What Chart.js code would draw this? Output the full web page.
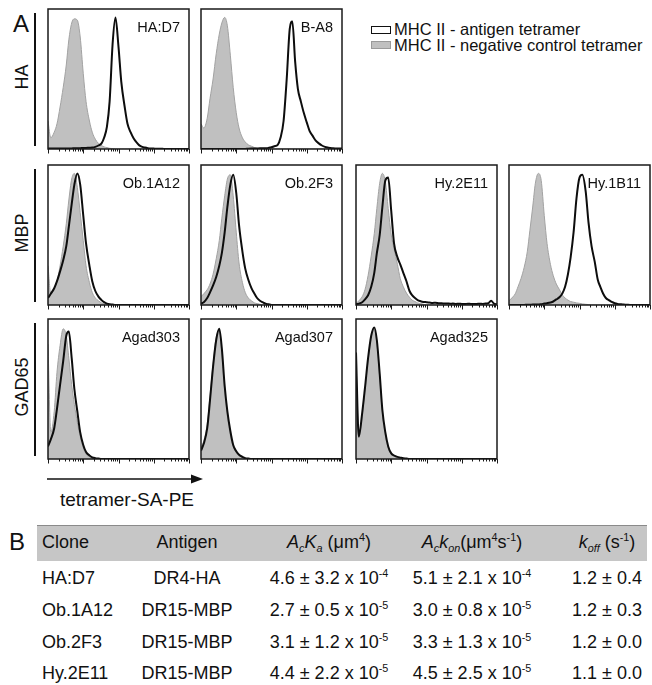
<!DOCTYPE html>
<html>
<head>
<meta charset="utf-8">
<script src="https://cdn.jsdelivr.net/npm/chart.js@4.4.1/dist/chart.umd.min.js"></script>
<style>
  body { margin: 0; background: #fff; }
  #fig { position: relative; width: 652px; height: 685px; overflow: hidden;
         font-family: "Liberation Sans", Arial, sans-serif; color: #111; }
  .abs { position: absolute; white-space: nowrap; line-height: 1; }
  .big { font-size: 24px; transform: translate(-50%, -50%); }
  .rowlab { font-size: 18px; transform: translate(-50%, -50%) rotate(-90deg); }
  .rowline { position: absolute; width: 1.5px; background: #111; }
  .panel { position: absolute; }
  .panel canvas { position: absolute; left: 0; top: 0; }
  .plabel { font-size: 14.5px; transform: translateY(-50%); }
  .leg { font-size: 16.5px; transform: translateY(-50%); }
  .legbox { position: absolute; width: 20px; height: 8px; box-sizing: border-box; }
  .cell { font-size: 18px; }
  .cell sup, .cell sub { font-size: 0.6em; position: relative; vertical-align: baseline; }
  .cell sup { top: -0.65em; }
  .cell sub { top: 0.35em; }
</style>
</head>
<body>
<div id="fig">
  <div class="abs big" style="left:21px; top:24px;">A</div>
  <div class="legbox" style="left:371px; top:26px; border:1.5px solid #111; background:#fff;"></div>
  <div class="abs leg" style="left:394px; top:29px;">MHC II - antigen tetramer</div>
  <div class="legbox" style="left:371px; top:41px; border:1px solid #9a9a9a; background:#c0c0c0;"></div>
  <div class="abs leg" style="left:394px; top:45px;">MHC II - negative control tetramer</div>
  <svg style="position:absolute; left:0; top:470px;" width="220" height="20">
    <line x1="47" y1="9" x2="193" y2="9" stroke="#111" stroke-width="1.5"/>
    <polygon points="191,4.5 203,9 191,13.5" fill="#111"/>
  </svg>
  <div class="abs" style="left:127px; top:499px; font-size:19px; transform:translate(-50%,-50%);">tetramer-SA-PE</div>
  <div class="abs big" style="left:17px; top:542px;">B</div>
  <div style="position:absolute; left:37px; top:525px; width:610px; height:35px; background:#c6c6c6; border-top:1px solid #8a8a8a;"></div>
</div>
<script>
// log-spaced fluorescence bins (E12 series), 1 to 10^4
const bins = [
  1, 1.2, 1.5, 1.8, 2.2, 2.7, 3.3, 3.9, 4.7, 5.6, 6.8, 8.2,
  10, 12, 15, 18, 22, 27, 33, 39, 47, 56, 68, 82,
  100, 120, 150, 180, 220, 270, 330, 390, 470, 560, 680, 820,
  1000, 1200, 1500, 1800, 2200, 2700, 3300, 3900, 4700, 5600, 6800, 8200,
  10000
];
const decades = [1, 10, 100, 1000, 10000];
const minorSteps = [2, 3, 4, 5, 6, 7, 8, 9];

const groups = ['HA', 'MBP', 'GAD65'];
const clones = ['HA:D7', 'B-A8', 'Ob.1A12', 'Ob.2F3', 'Hy.2E11', 'Hy.1B11', 'Agad303', 'Agad307', 'Agad325'];

// % of modal count per bin; grey = negative control tetramer, black = antigen tetramer
const controlHAD7 = [
  20, 8, 12, 18, 30, 44, 60, 78, 90, 93, 92, 80,
  54, 34, 20, 12, 7, 4, 2.5, 1.5, 1, 0.5, 0.3, 0,
  0, 0, 0, 0, 0, 0, 0, 0, 0, 0, 0, 0,
  0, 0, 0, 0, 0, 0, 0, 0, 0, 0, 0, 0,
  0];
const antigenHAD7 = [
  0.4, 0.3, 0.3, 0.3, 0.3, 0.3, 0.4, 0.4, 0.4, 0.5, 0.5, 0.6,
  0.7, 0.8, 0.9, 1, 1.5, 2.5, 4, 8, 16, 34, 75, 94,
  73, 48, 30, 18, 12, 7.5, 4.5, 2.6, 1.5, 1, 0.6, 0.4,
  0.3, 0.2, 0.2, 0.1, 0, 0, 0, 0, 0, 0, 0, 0,
  0];
const controlBA8 = [
  18, 15, 22, 36, 50, 68, 82, 90, 94, 88, 67, 44,
  26, 15, 8, 5, 3, 2, 1, 0.5, 0.3, 0, 0, 0,
  0, 0, 0, 0, 0, 0, 0, 0, 0, 0, 0, 0,
  0, 0, 0, 0, 0, 0, 0, 0, 0, 0, 0, 0,
  0];
const antigenBA8 = [
  0, 0, 0, 0, 0, 0, 0, 0, 0, 0, 0, 0,
  0, 0, 0, 0, 0.2, 0.3, 0.3, 0.4, 0.5, 0.5, 0.6, 0.8,
  1.2, 2, 3, 8, 20, 50, 86, 91, 62, 43, 34, 26,
  19, 13, 9, 6, 4, 2.5, 1.5, 1, 0.7, 0.5, 0.4, 0.3,
  0.3];
const controlOb1A12 = [
  28, 8, 12, 17, 28, 42, 58, 75, 90, 94, 84, 66,
  46, 28, 16, 9, 5, 3, 1.5, 0.8, 0.3, 0, 0, 0,
  0, 0, 0, 0, 0, 0, 0, 0, 0, 0, 0, 0,
  0, 0, 0, 0, 0, 0, 0, 0, 0, 0, 0, 0,
  0];
const antigenOb1A12 = [
  5, 8, 12, 17, 24, 32, 42, 56, 72, 86, 94, 86,
  64, 44, 28, 17, 10, 6, 3.5, 2, 1, 0.5, 0.3, 0,
  0, 0, 0, 0, 0, 0, 0, 0, 0, 0, 0, 0,
  0, 0, 0, 0, 0, 0, 0, 0, 0, 0, 0, 0,
  0];
const controlOb2F3 = [
  6, 8, 11, 15, 22, 33, 46, 62, 78, 90, 93, 78,
  52, 30, 16, 9, 5, 3, 1.5, 1, 0.5, 0, 0, 0,
  0, 0, 0, 0, 0, 0, 0, 0, 0, 0, 0, 0,
  0, 0, 0, 0, 0, 0, 0, 0, 0, 0, 0, 0,
  0];
const antigenOb2F3 = [
  1, 2, 5, 9, 14, 20, 28, 37, 52, 70, 86, 93,
  80, 57, 38, 26, 18, 12, 8, 5, 3, 2, 1, 0.5,
  0, 0, 0, 0, 0, 0, 0, 0, 0, 0, 0, 0,
  0, 0, 0, 0, 0, 0, 0, 0, 0, 0, 0, 0,
  0];
const controlHy2E11 = [
  1, 3, 6, 11, 21, 35, 51, 69, 87, 94, 88, 69,
  50, 40, 29, 19, 13, 8.5, 5.5, 3.5, 2.5, 1.5, 1, 0.5,
  0, 0, 0, 0, 0, 0, 0, 0, 0, 0, 0, 0,
  0, 0, 0, 0, 0, 0, 0, 0, 0, 0, 0, 0,
  0];
const antigenHy2E11 = [
  0.5, 1, 2, 4, 7, 13, 23, 37, 50, 70, 89, 91,
  67, 44, 34, 29, 23, 17, 10, 7, 5, 3.5, 2.7, 2.2,
  2, 1.8, 1.5, 1.6, 1.3, 1.2, 1, 1.1, 0.9, 1, 0.8, 0.9,
  0.8, 0.7, 0.9, 0.8, 0.7, 0.8, 0.9, 0.8, 1, 1.2, 3, 1,
  0.5];
const controlHy1B11 = [
  3, 5, 8, 13, 19, 27, 38, 53, 70, 87, 94, 89,
  64, 44, 29, 21, 15, 11, 7, 5, 3.5, 2.5, 2, 1.5,
  1.2, 0.8, 0.5, 0.3, 0, 0, 0, 0, 0, 0, 0, 0,
  0, 0, 0, 0, 0, 0, 0, 0, 0, 0, 0, 0,
  0];
const antigenHy1B11 = [
  0, 0, 0, 0, 0, 0, 0.2, 0.2, 0.3, 0.3, 0.3, 0.6,
  1, 1.3, 1.8, 2.5, 4, 5.5, 8.5, 13, 22, 34, 52, 76,
  91, 93, 81, 59, 42, 31, 18, 13, 8, 5, 3.5, 2.2,
  1.3, 0.8, 0.5, 0.3, 0.2, 0, 0, 0, 0, 0, 0, 0,
  0];
const controlAgad303 = [
  82, 19, 34, 62, 81, 93, 88, 72, 53, 39, 26, 16,
  8, 3.5, 1.5, 0.7, 0.3, 0, 0, 0, 0, 0, 0, 0,
  0, 0, 0, 0, 0, 0, 0, 0, 0, 0, 0, 0,
  0, 0, 0, 0, 0, 0, 0, 0, 0, 0, 0, 0,
  0];
const antigenAgad303 = [
  9, 14, 22, 36, 53, 70, 88, 91, 72, 50, 34, 19,
  10, 5, 2.5, 1.2, 0.6, 0.3, 0, 0, 0, 0, 0, 0,
  0, 0, 0, 0, 0, 0, 0, 0, 0, 0, 0, 0,
  0, 0, 0, 0, 0, 0, 0, 0, 0, 0, 0, 0,
  0];
const controlAgad307 = [
  8, 13, 25, 45, 68, 87, 92, 76, 49, 31, 17, 9,
  4.5, 2.5, 1.2, 0.5, 0.2, 0, 0, 0, 0, 0, 0, 0,
  0, 0, 0, 0, 0, 0, 0, 0, 0, 0, 0, 0,
  0, 0, 0, 0, 0, 0, 0, 0, 0, 0, 0, 0,
  0];
const antigenAgad307 = [
  6, 11, 22, 42, 66, 85, 93, 79, 52, 34, 20, 10,
  5.5, 3, 1.5, 0.6, 0.3, 0, 0, 0, 0, 0, 0, 0,
  0, 0, 0, 0, 0, 0, 0, 0, 0, 0, 0, 0,
  0, 0, 0, 0, 0, 0, 0, 0, 0, 0, 0, 0,
  0];
const controlAgad325 = [
  72, 15, 31, 49, 70, 87, 93, 83, 59, 33, 17, 8,
  3.5, 2, 1, 0.5, 0.3, 0, 0, 0, 0, 0, 0, 0,
  0, 0, 0, 0, 0, 0, 0, 0, 0, 0, 0, 0,
  0, 0, 0, 0, 0, 0, 0, 0, 0, 0, 0, 0,
  0];
const antigenAgad325 = [
  76, 16, 33, 51, 72, 88, 94, 85, 61, 35, 19, 9,
  4, 2.5, 1.5, 1, 0.5, 0.3, 0, 0, 0, 0, 0, 0,
  0, 0, 0, 0, 0, 0, 0, 0, 0, 0, 0, 0,
  0, 0, 0, 0, 0, 0, 0, 0, 0, 0, 0, 0,
  0];

const controlSeries = [controlHAD7, controlBA8, controlOb1A12, controlOb2F3, controlHy2E11,
                       controlHy1B11, controlAgad303, controlAgad307, controlAgad325];
const antigenSeries = [antigenHAD7, antigenBA8, antigenOb1A12, antigenOb2F3, antigenHy2E11,
                       antigenHy1B11, antigenAgad303, antigenAgad307, antigenAgad325];

// table B
const tblClones = ['HA:D7', 'Ob.1A12', 'Ob.2F3', 'Hy.2E11'];
const tblAntigens = ['DR4-HA', 'DR15-MBP', 'DR15-MBP', 'DR15-MBP'];
const kaMean = [4.6, 2.7, 3.1, 4.4];
const kaSd = [3.2, 0.5, 1.2, 2.2];
const kaExp = [-4, -5, -5, -5];
const konMean = [5.1, 3.0, 3.3, 4.5];
const konSd = [2.1, 0.8, 1.3, 2.5];
const konExp = [-4, -5, -5, -5];
const koffMean = [1.2, 1.2, 1.2, 1.1];
const koffSd = [0.4, 0.3, 0.0, 0.0];

// layout
const colLeft = [48, 201, 356, 509];
const rowTop = [9, 165, 319];
const panelW = 141, panelH = 140;
const slots = [[0, 0], [0, 1], [1, 0], [1, 1], [1, 2], [1, 3], [2, 0], [2, 1], [2, 2]];
const pad = { left: 2, right: 2, top: 2, bottom: 7 };

const fig = document.getElementById('fig');

function addDiv(cls, html, style) {
    const d = document.createElement('div');
    d.className = cls;
    d.innerHTML = html;
    Object.assign(d.style, style);
    fig.appendChild(d);
    return d;
}

// frame + log ticks under each histogram
const framePlugin = {
    id: 'frame',
    afterDraw(chart) {
        const { ctx, chartArea: a } = chart;
        const x = chart.scales.x;
        ctx.save();
        ctx.strokeStyle = '#1a1a1a';
        ctx.lineWidth = 1.5;
        ctx.strokeRect(a.left, a.top, a.right - a.left, a.bottom - a.top);
        ctx.lineWidth = 1;
        ctx.beginPath();
        decades.forEach((d, i) => {
            const px = Math.round(x.getPixelForValue(d)) + 0.5;
            ctx.moveTo(px, a.bottom);
            ctx.lineTo(px, a.bottom + 4.5);
            if (i < decades.length - 1) {
                minorSteps.forEach(m => {
                    const mx = Math.round(x.getPixelForValue(m * d)) + 0.5;
                    ctx.moveTo(mx, a.bottom);
                    ctx.lineTo(mx, a.bottom + 2.5);
                });
            }
        });
        ctx.stroke();
        ctx.restore();
    }
};

// row labels with the bracket line
groups.forEach((g, r) => {
    const line = document.createElement('div');
    line.className = 'rowline';
    Object.assign(line.style, { left: '34px', top: (rowTop[r] + 4) + 'px', height: (panelH - 7) + 'px' });
    fig.appendChild(line);
    addDiv('abs rowlab', g, { left: '22px', top: (rowTop[r] + panelH / 2 - 2) + 'px' });
});

clones.forEach((name, i) => {
    const [r, c] = slots[i];
    const w = panelW + pad.left + pad.right;
    const h = panelH + pad.top + pad.bottom;
    const wrap = document.createElement('div');
    wrap.className = 'panel';
    Object.assign(wrap.style, { left: (colLeft[c] - pad.left) + 'px', top: (rowTop[r] - pad.top) + 'px',
                                width: w + 'px', height: h + 'px' });
    const canvas = document.createElement('canvas');
    canvas.width = w;
    canvas.height = h;
    wrap.appendChild(canvas);
    const lab = document.createElement('div');
    lab.className = 'abs plabel';
    lab.textContent = name;
    Object.assign(lab.style, { right: (pad.right + 9) + 'px', top: (pad.top + 18) + 'px' });
    wrap.appendChild(lab);
    fig.appendChild(wrap);

    new Chart(canvas.getContext('2d'), {
        type: 'line',
        data: {
            labels: bins,
            datasets: [
                {
                    label: 'MHC II - negative control tetramer',
                    data: controlSeries[i],
                    fill: 'origin',
                    backgroundColor: '#c0c0c0',
                    borderColor: '#a2a2a2',
                    borderWidth: 1,
                    order: 2
                },
                {
                    label: 'MHC II - antigen tetramer',
                    data: antigenSeries[i],
                    fill: false,
                    borderColor: '#0d0d0d',
                    borderWidth: 2,
                    order: 1
                }
            ]
        },
        options: {
            responsive: false,
            animation: false,
            devicePixelRatio: 1,
            layout: { padding: pad },
            elements: {
                point: { radius: 0 },
                line: { cubicInterpolationMode: 'monotone' }
            },
            plugins: { legend: { display: false }, tooltip: { enabled: false } },
            scales: {
                x: { type: 'logarithmic', min: 1, max: 10000, display: false },
                y: { min: 0, max: 100, display: false }
            }
        },
        plugins: [framePlugin]
    });
});

// table B
const headerY = 542;
const rowY = [578, 610, 642, 673];
const colCenter = [187, 329, 472, 607];
function cell(html, x, y, centered) {
    addDiv('abs cell', html, { left: x + 'px', top: y + 'px',
        transform: centered ? 'translate(-50%, -50%)' : 'translateY(-50%)' });
}
const fmt = v => v.toFixed(1);
cell('Clone', 42, headerY, false);
cell('Antigen', colCenter[0], headerY, true);
cell('<i>A<sub>c</sub>K<sub>a</sub></i> (&mu;m<sup>4</sup>)', colCenter[1], headerY, true);
cell('<i>A<sub>c</sub>k<sub>on</sub></i>(&mu;m<sup>4</sup>s<sup>-1</sup>)', colCenter[2], headerY, true);
cell('<i>k<sub>off</sub></i> (s<sup>-1</sup>)', colCenter[3], headerY, true);
tblClones.forEach((cl, i) => {
    cell(cl, 42, rowY[i], false);
    cell(tblAntigens[i], colCenter[0], rowY[i], true);
    cell(fmt(kaMean[i]) + ' &plusmn; ' + fmt(kaSd[i]) + ' x 10<sup>' + kaExp[i] + '</sup>', colCenter[1], rowY[i], true);
    cell(fmt(konMean[i]) + ' &plusmn; ' + fmt(konSd[i]) + ' x 10<sup>' + konExp[i] + '</sup>', colCenter[2], rowY[i], true);
    cell(fmt(koffMean[i]) + ' &plusmn; ' + fmt(koffSd[i]), colCenter[3], rowY[i], true);
});
</script>
</body>
</html>
